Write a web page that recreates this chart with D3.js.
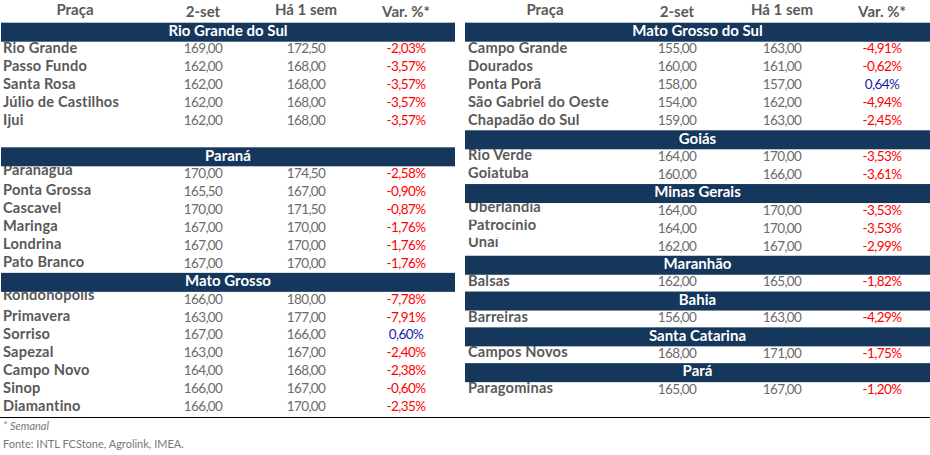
<!DOCTYPE html>
<html>
<head>
<meta charset="utf-8">
<script src="https://cdn.jsdelivr.net/npm/d3@7.9.0/dist/d3.min.js"></script>
<style>
  body { margin: 0; background: #fff; }
  svg { display: block; font-family: Lato, "Open Sans", sans-serif; }
</style>
</head>
<body>
<div id="chart"></div>
<script>
// column titles
const columns = ['Praça', '2-set', 'Há 1 sem', 'Var. %*'];

// regions, in reading order, and which panel they sit in
const regions = ['Rio Grande do Sul', 'Paraná', 'Mato Grosso',
  'Mato Grosso do Sul', 'Goiás', 'Minas Gerais', 'Maranhão', 'Bahia', 'Santa Catarina', 'Pará'];
const regionPanel = [0, 0, 0, 1, 1, 1, 1, 1, 1, 1];
// an empty line is left after some regions
const regionGapAfter = [1, 0, 0, 0, 0, 0, 0, 0, 0, 0];

// one entry per place
const places = [
  'Rio Grande', 'Passo Fundo', 'Santa Rosa', 'Júlio de Castilhos', 'Ijui',
  'Paranaguá', 'Ponta Grossa', 'Cascavel', 'Maringa', 'Londrina', 'Pato Branco',
  'Rondonópolis', 'Primavera', 'Sorriso', 'Sapezal', 'Campo Novo', 'Sinop', 'Diamantino',
  'Campo Grande', 'Dourados', 'Ponta Porã', 'São Gabriel do Oeste', 'Chapadão do Sul',
  'Rio Verde', 'Goiatuba',
  'Uberlândia', 'Patrocínio', 'Unaí',
  'Balsas',
  'Barreiras',
  'Campos Novos',
  'Paragominas'
];
const placeRegion = [
  0, 0, 0, 0, 0,
  1, 1, 1, 1, 1, 1,
  2, 2, 2, 2, 2, 2, 2,
  3, 3, 3, 3, 3,
  4, 4,
  5, 5, 5,
  6,
  7,
  8,
  9
];
const priceNow = [
  169.0, 162.0, 162.0, 162.0, 162.0,
  170.0, 165.5, 170.0, 167.0, 167.0, 167.0,
  166.0, 163.0, 167.0, 163.0, 164.0, 166.0, 166.0,
  155.0, 160.0, 158.0, 154.0, 159.0,
  164.0, 160.0,
  164.0, 164.0, 162.0,
  162.0,
  156.0,
  168.0,
  165.0
];
const priceWeekAgo = [
  172.5, 168.0, 168.0, 168.0, 168.0,
  174.5, 167.0, 171.5, 170.0, 170.0, 170.0,
  180.0, 177.0, 166.0, 167.0, 168.0, 167.0, 170.0,
  163.0, 161.0, 157.0, 162.0, 163.0,
  170.0, 166.0,
  170.0, 170.0, 167.0,
  165.0,
  163.0,
  171.0,
  167.0
];
const weeklyChange = [
  -2.03, -3.57, -3.57, -3.57, -3.57,
  -2.58, -0.90, -0.87, -1.76, -1.76, -1.76,
  -7.78, -7.91, 0.60, -2.40, -2.38, -0.60, -2.35,
  -4.91, -0.62, 0.64, -4.94, -2.45,
  -3.53, -3.61,
  -3.53, -3.53, -2.99,
  -1.82,
  -4.29,
  -1.75,
  -1.20
];

// in the source sheet these cells are too short, so the top of the name is cut
const trimmedNames = ['Paranaguá', 'Rondonópolis', 'Uberlândia', 'Patrocínio', 'Unaí'];

const notes = ['* Semanal', 'Fonte: INTL FCStone, Agrolink, IMEA.'];

const width = 930;
const height = 455;
const barColor = '#15375b';
const nameColor = '#595959';
const numColor = '#6b6b6b';

// brazilian style numbers, plain hyphen for negatives
const ptBR = d3.formatLocale({
  decimal: ',', thousands: '.', grouping: [3], currency: ['R$', ''], minus: '-'
});
const fmtNum = ptBR.format('.2f');
const fmtPct = (v) => ptBR.format('.2f')(v) + '%';

// two panels, each with its own column scale
const panelX = [
  d3.scaleOrdinal().domain(columns).range([75, 203, 306, 406]),
  d3.scaleOrdinal().domain(columns).range([545, 677, 782, 882])
];
const headY = d3.scaleOrdinal().domain(columns).range([14.8, 16.8, 15.2, 17]);
const panelLeft = [1, 465];
const panelRight = [455, 930];
const nameX = [3, 468];

// vertical layout: walk each panel, region bar then its rows (y = number baseline)
const rowStep = 17.95;
const barH = 19;
const barTops = [];
const rowY = [];
[0, 1].forEach((p) => {
  let top = 22.7;
  regions.forEach((r, ri) => {
    if (regionPanel[ri] !== p) return;
    barTops[ri] = top;
    let y = top + 30.7;
    let last = y;
    places.forEach((pl, i) => {
      if (placeRegion[i] !== ri) return;
      rowY[i] = y;
      last = y;
      y += rowStep;
    });
    top = last + 5.1 + regionGapAfter[ri] * 17;
  });
});

const rows = places.map((name, i) => ({
  name,
  panel: regionPanel[placeRegion[i]],
  now: priceNow[i],
  prev: priceWeekAgo[i],
  chg: weeklyChange[i],
  trimmed: trimmedNames.includes(name),
  y: rowY[i]
}));

const svg = d3.select('#chart')
  .append('svg')
  .attr('width', width)
  .attr('height', height)
  .attr('viewBox', `0 0 ${width} ${height}`);

svg.append('defs')
  .append('clipPath')
  .attr('id', 'trim')
  .append('rect')
  .attr('x', 0)
  .attr('y', -12.9)
  .attr('width', width)
  .attr('height', 20);

// column titles for both panels
[0, 1].forEach((p) => {
  svg.append('g')
    .attr('class', 'col-heads')
    .selectAll('text')
    .data(columns)
    .join('text')
    .attr('x', (d) => panelX[p](d))
    .attr('y', (d) => headY(d))
    .attr('text-anchor', 'middle')
    .attr('fill', nameColor)
    .style('font-size', '15px')
    .style('font-weight', 700)
    .text((d) => d);
});

// body rows
const body = svg.append('g').attr('class', 'rows');
const rowG = body.selectAll('g')
  .data(rows)
  .join('g')
  .attr('transform', (d) => `translate(0, ${d.y})`);

rowG.append('text')
  .attr('x', (d) => nameX[d.panel])
  .attr('y', (d) => (d.trimmed ? -3.2 : -0.7))
  .attr('clip-path', (d) => (d.trimmed ? 'url(#trim)' : null))
  .attr('fill', nameColor)
  .style('font-size', '14.6px')
  .style('font-weight', 700)
  .style('letter-spacing', '0.2px')
  .text((d) => d.name);

rowG.append('text')
  .attr('x', (d) => panelX[d.panel](columns[1]))
  .attr('text-anchor', 'middle')
  .attr('fill', numColor)
  .style('font-size', '13.5px')
  .style('letter-spacing', '-0.6px')
  .text((d) => fmtNum(d.now));

rowG.append('text')
  .attr('x', (d) => panelX[d.panel](columns[2]))
  .attr('text-anchor', 'middle')
  .attr('fill', numColor)
  .style('font-size', '13.5px')
  .style('letter-spacing', '-0.6px')
  .text((d) => fmtNum(d.prev));

rowG.append('text')
  .attr('x', (d) => panelX[d.panel](columns[3]))
  .attr('text-anchor', 'middle')
  .attr('fill', (d) => (d.chg < 0 ? '#ff0000' : '#1a1aa6'))
  .style('font-size', '13.5px')
  .style('letter-spacing', '-0.6px')
  .text((d) => fmtPct(d.chg));

// region bars
const bars = svg.append('g')
  .attr('class', 'region-bars')
  .selectAll('g')
  .data(regions.map((r, i) => ({ name: r, panel: regionPanel[i], top: barTops[i] })))
  .join('g');

bars.append('rect')
  .attr('x', (d) => panelLeft[d.panel])
  .attr('y', (d) => d.top)
  .attr('width', (d) => panelRight[d.panel] - panelLeft[d.panel])
  .attr('height', barH)
  .attr('fill', barColor);

bars.append('text')
  .attr('x', (d) => (panelLeft[d.panel] + panelRight[d.panel]) / 2)
  .attr('y', (d) => d.top + 13.2)
  .attr('text-anchor', 'middle')
  .attr('fill', '#fff')
  .style('font-size', '15px')
  .style('font-weight', 700)
  .text((d) => d.name);

// rule under the tables
svg.append('line')
  .attr('x1', 0)
  .attr('x2', width)
  .attr('y1', 417.5)
  .attr('y2', 417.5)
  .attr('stroke', '#000')
  .attr('stroke-width', 1);

svg.append('text')
  .attr('x', 3)
  .attr('y', 430)
  .attr('fill', '#777')
  .style('font-size', '11px')
  .style('font-style', 'italic')
  .text(notes[0]);

svg.append('text')
  .attr('x', 3)
  .attr('y', 448)
  .attr('fill', '#777')
  .style('font-size', '11px')
  .text(notes[1]);
</script>
</body>
</html>
